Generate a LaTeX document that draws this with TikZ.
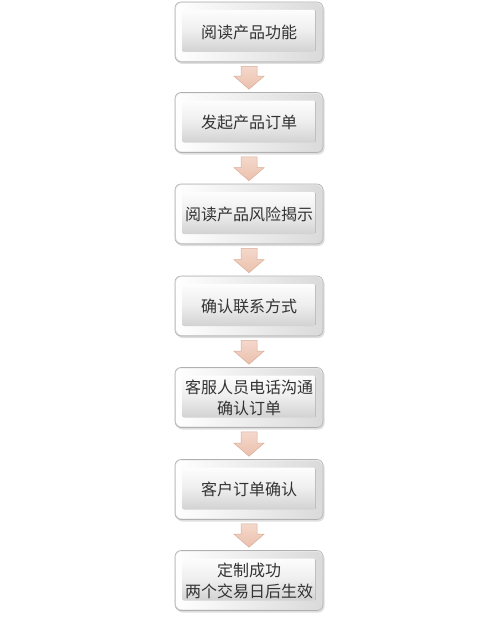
\documentclass[tikz,border=0pt]{standalone}
\usepackage{fontspec}
\newfontfamily\cjk{Noto Sans CJK SC}
\usetikzlibrary{shadows,calc}
\definecolor{txt}{HTML}{333333}
\definecolor{frame}{HTML}{B0B0B0}
\definecolor{outtop}{HTML}{EDEDED}
\definecolor{outbot}{HTML}{DADADA}
\definecolor{facetop}{HTML}{FDFDFD}
\definecolor{facemid}{HTML}{EEEEEE}
\definecolor{facebot}{HTML}{D2D2D2}
\definecolor{bevelR}{HTML}{BEBEBE}
\definecolor{arrtop}{HTML}{F6DCD0}
\definecolor{arrbot}{HTML}{EBC0AD}
\definecolor{arrline}{HTML}{D9AD98}
\tikzset{
  stepbox/.style={
    minimum width=148pt, minimum height=60pt, rounded corners=6pt,
    draw=frame, line width=0.6pt, top color=outtop, bottom color=outbot,
    drop shadow={shadow xshift=1.5pt, shadow yshift=-2pt, opacity=0.25},
    font=\cjk\fontsize{16}{21}\selectfont, text=txt, align=center,
    path picture={
      \shade[left color=white, right color=outbot]
        ([shift={(1pt,-1pt)}]path picture bounding box.north west)
        rectangle ([shift={(-1pt,1pt)}]path picture bounding box.south east);
      \shade[top color=facetop, bottom color=facebot, middle color=facemid, rounded corners=2pt]
        ([shift={(7pt,-8pt)}]path picture bounding box.north west)
        rectangle ([shift={(-8pt,10pt)}]path picture bounding box.south east);
      \draw[bevelR, line width=0.8pt]
        ([shift={(-8pt,-9pt)}]path picture bounding box.north east)
        -- ([shift={(-8pt,11pt)}]path picture bounding box.south east);
    }
  },
  downarrow/.style={
    draw=arrline, line width=0.5pt, top color=arrtop, bottom color=arrbot,
    to path={let \p1=(\tikztostart), \p2=(\tikztotarget) in
      (\x1-8pt,\y1-4pt) -- (\x1+8pt,\y1-4pt) -- (\x1+8pt,\y2+16pt)
      -- (\x1+15pt,\y2+16pt) -- (\x1,\y2+3pt) -- (\x1-15pt,\y2+16pt)
      -- (\x1-8pt,\y2+16pt) -- cycle}
  }
}
\begin{document}
\begin{tikzpicture}[x=1pt,y=1pt]
\useasboundingbox (0,0) rectangle (500,-618);
\fill[white] (0,0) rectangle (500,-618);
\node[stepbox] (b1) at (249,-32)   {阅读产品功能};
\node[stepbox] (b2) at (249,-122.5){发起产品订单};
\node[stepbox] (b3) at (249,-214)  {阅读产品风险揭示};
\node[stepbox] (b4) at (249,-306)  {确认联系方式};
\node[stepbox] (b5) at (249,-397.5){客服人员电话沟通\\确认订单};
\node[stepbox] (b6) at (249,-489.5){客户订单确认};
\node[stepbox] (b7) at (249,-580.5){定制成功\\两个交易日后生效};
\path[downarrow] (b1.south) to (b2.north);
\path[downarrow] (b2.south) to (b3.north);
\path[downarrow] (b3.south) to (b4.north);
\path[downarrow] (b4.south) to (b5.north);
\path[downarrow] (b5.south) to (b6.north);
\path[downarrow] (b6.south) to (b7.north);
\end{tikzpicture}
\end{document}
